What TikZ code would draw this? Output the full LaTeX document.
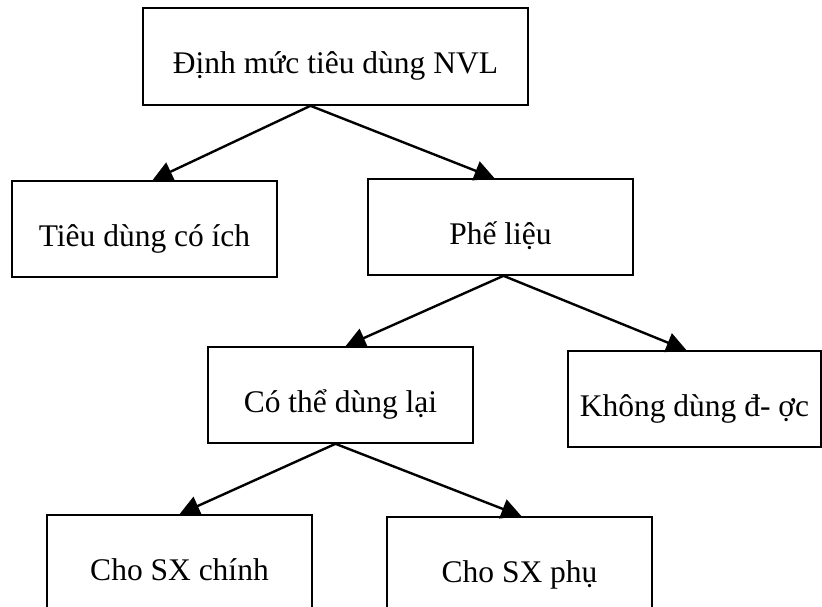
\documentclass[tikz,border=0pt]{standalone}
\usepackage{fontspec}
\setmainfont{Liberation Serif}
\usetikzlibrary{arrows.meta}
\tikzset{
  box/.style={draw,line width=1.6pt,minimum height=96pt,inner sep=0pt,
    text height=40pt,text depth=6pt},
  arr/.style={line width=2.4pt,-{Triangle[length=20pt,width=20pt]}}
}
\begin{document}
\begin{tikzpicture}[x=1pt,y=-1pt,font=\fontsize{31.5}{37}\selectfont]
     \useasboundingbox (0,0) rectangle (822,606);
     \clip (0,0) rectangle (822,606);
     \node[box,minimum width=385pt,minimum height=97pt] (dinhmuc) at (335.5,56.5) {Định mức tiêu dùng NVL};
     \node[box,minimum width=265pt] (tieudung) at (144.5,229) {Tiêu dùng có ích};
     \node[box,minimum width=265pt] (phelieu) at (500.5,227) {Phế liệu};
     \node[box,minimum width=265pt] (cothe) at (340.5,395) {Có thể dùng lại};
     \node[box,minimum width=253pt] (khong) at (694.5,399) {Không dùng đ- ợc};
     \node[box,minimum width=265pt] (chinh) at (179.5,563) {Cho SX chính};
     \node[box,minimum width=265pt] (phu) at (519.5,565) {Cho SX phụ};
     % arrows
     \draw[arr] ([xshift=-25pt]dinhmuc.south) -- ([xshift=8pt]tieudung.north);
     \draw[arr] ([xshift=-25pt]dinhmuc.south) -- ([xshift=-6pt]phelieu.north);
     \draw[arr] ([xshift=3pt]phelieu.south) -- ([xshift=5pt]cothe.north);
     \draw[arr] ([xshift=3pt]phelieu.south) -- ([xshift=-8pt]khong.north);
     \draw[arr] ([xshift=-5pt]cothe.south) -- (chinh.north);
     \draw[arr] ([xshift=-5pt]cothe.south) -- ([xshift=2pt]phu.north);
   \end{tikzpicture}
\end{document}
